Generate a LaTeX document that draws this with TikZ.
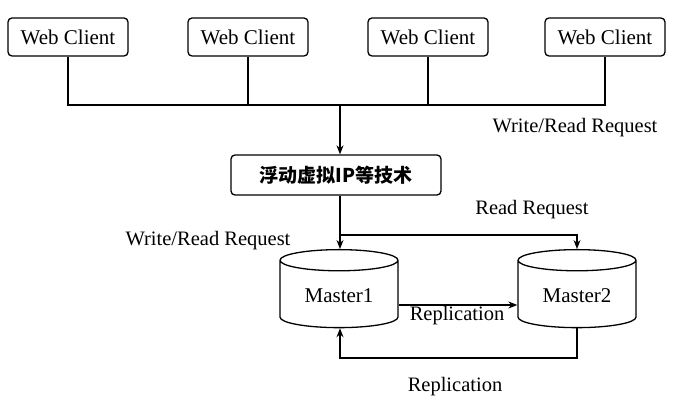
\documentclass[tikz,border=0pt]{standalone}
\usepackage{fontspec}
\setmainfont{Liberation Serif}
\newfontfamily\cjk{Noto Sans CJK SC}
\usetikzlibrary{shapes.geometric,arrows.meta}
\begin{document}
\begin{tikzpicture}[x=1pt,y=-1pt,line width=1.3pt,
  box/.style={draw,rounded corners=4pt,minimum width=120pt,minimum height=38pt,font=\fontsize{21}{24}\selectfont},
  db/.style={draw,cylinder,shape border rotate=90,aspect=0.28,minimum width=118pt,minimum height=78pt,font=\fontsize{21}{24}\selectfont},
  arr/.style={-{Stealth[length=9pt,width=7pt]}},
  lbl/.style={font=\fontsize{20.5}{24}\selectfont}]
\useasboundingbox (0,0) rectangle (678,407);
\node[box] (w1) at (68,37) {Web Client};
\node[box] (w2) at (248,37) {Web Client};
\node[box] (w3) at (428,37) {Web Client};
\node[box] (w4) at (605,37) {Web Client};
\node[box,minimum width=210pt,minimum height=40pt,font=\cjk\bfseries\fontsize{19}{22}\selectfont] (ip) at (336,175) {浮动虚拟IP等技术};
\node[db] (m1) at (339,296) {Master1};
\node[db] (m2) at (577,296) {Master2};
\coordinate (j) at (340,105);
\draw (w1.south) |- (j) -| (w4.south);
\draw (w2.south) -- (w2.south|-j);
\draw (w3.south) -- (w3.south|-j);
\draw[arr] (j) -- (ip.north-|j);
\coordinate (b) at (340,235);
\draw[arr] (ip.south-|b) -- (m1.north-|b);
\draw[arr] (b) -| (m2.north);
\draw[arr] (m1.east|-0,305) -- (m2.west|-0,305);
\coordinate (c) at (577,358);
\draw[arr] (m2.south) -- (c) -| (m1.south-|b);
\node[lbl] (t1) at (575,128) {Write/Read Request};
\node[lbl] (t2) at (532,210) {Read Request};
\node[lbl] (t3) at (208,241) {Write/Read Request};
\node[lbl] (t4) at (457,316) {Replication};
\node[lbl] (t5) at (455,387) {Replication};
\end{tikzpicture}
\end{document}
